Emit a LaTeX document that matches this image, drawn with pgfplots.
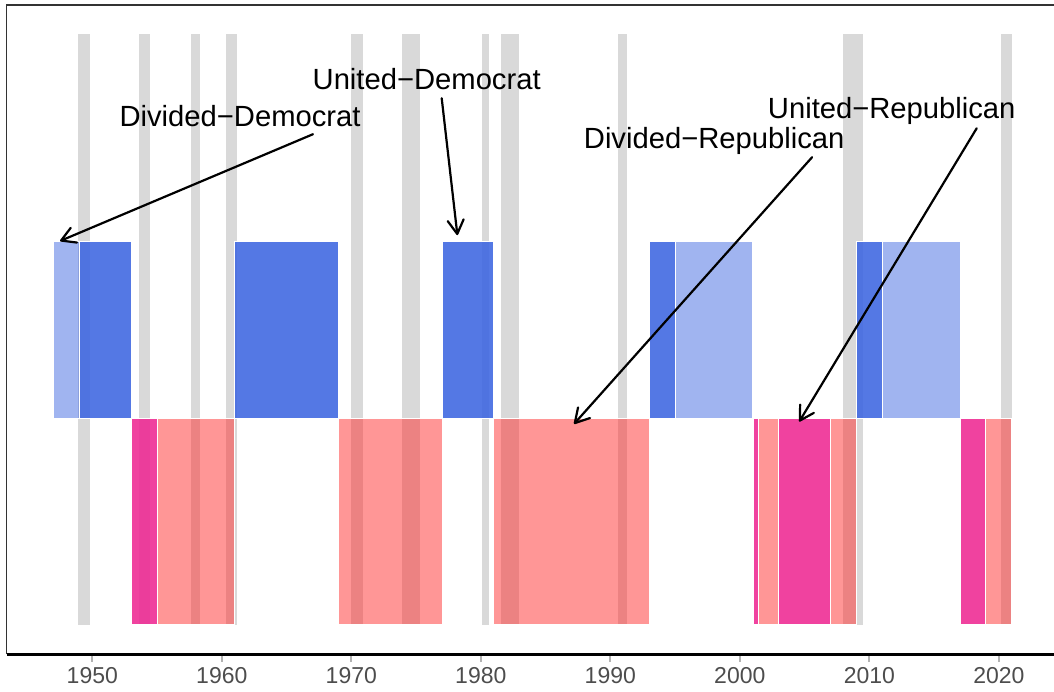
\documentclass[border=0pt]{standalone}
\usepackage{pgfplots}
\pgfplotsset{compat=1.18}
\usepackage{fontspec}
\setmainfont{Liberation Sans}
\usetikzlibrary{arrows.meta}
\definecolor{recgrey}{RGB}{217,217,217}
\definecolor{dem}{RGB}{65,105,225}
\definecolor{rep}{RGB}{255,45,45}
\definecolor{urep}{RGB}{238,45,149}
\definecolor{framegrey}{RGB}{51,51,51}
\definecolor{tickgrey}{RGB}{179,179,179}
\definecolor{labgrey}{RGB}{77,77,77}
\begin{document}
\begin{tikzpicture}
\begin{axis}[
  scale only axis, width=1047.3pt, height=649pt,
  xmin=1943.39, xmax=2024.26, ymin=-0.05, ymax=1.05,
  axis line style={draw=none},
  ytick=\empty,
  xtick={1950,1960,1970,1980,1990,2000,2010,2020},
  xticklabels={1950,1960,1970,1980,1990,2000,2010,2020},
  xticklabel style={font=\fontsize{23}{27}\selectfont, text=labgrey, yshift=-2pt},
  xtick pos=bottom,
  tick align=outside,
  major tick length=8pt,
  every tick/.style={tickgrey, line width=2pt},
  clip=false,
  grey/.style={draw=none, fill=recgrey},
  udem/.style={draw=white, line width=0.8pt, fill=dem, fill opacity=0.9},
  ddem/.style={draw=white, line width=0.8pt, fill=dem, fill opacity=0.5},
  urep/.style={draw=white, line width=0.8pt, fill=urep, fill opacity=0.9},
  drep/.style={draw=white, line width=0.8pt, fill=rep, fill opacity=0.5},
]
% recessions
\addplot[grey] coordinates {(1948.90,0) (1949.82,0) (1949.82,1) (1948.90,1)} -- cycle;
\addplot[grey] coordinates {(1953.61,0) (1954.45,0) (1954.45,1) (1953.61,1)} -- cycle;
\addplot[grey] coordinates {(1957.62,0) (1958.32,0) (1958.32,1) (1957.62,1)} -- cycle;
\addplot[grey] coordinates {(1960.32,0) (1961.17,0) (1961.17,1) (1960.32,1)} -- cycle;
\addplot[grey] coordinates {(1969.98,0) (1970.90,0) (1970.90,1) (1969.98,1)} -- cycle;
\addplot[grey] coordinates {(1973.92,0) (1975.31,0) (1975.31,1) (1973.92,1)} -- cycle;
\addplot[grey] coordinates {(1980.12,0) (1980.63,0) (1980.63,1) (1980.12,1)} -- cycle;
\addplot[grey] coordinates {(1981.56,0) (1982.96,0) (1982.96,1) (1981.56,1)} -- cycle;
\addplot[grey] coordinates {(1990.59,0) (1991.31,0) (1991.31,1) (1990.59,1)} -- cycle;
\addplot[grey] coordinates {(2007.98,0) (2009.49,0) (2009.49,1) (2007.98,1)} -- cycle;
\addplot[grey] coordinates {(2020.17,0) (2021.00,0) (2021.00,1) (2020.17,1)} -- cycle;
% Democratic presidents
\addplot[ddem] coordinates {(1947,0.35) (1949,0.35) (1949,0.65) (1947,0.65)} -- cycle;
\addplot[udem] coordinates {(1949,0.35) (1953,0.35) (1953,0.65) (1949,0.65)} -- cycle;
\addplot[udem] coordinates {(1961,0.35) (1969,0.35) (1969,0.65) (1961,0.65)} -- cycle;
\addplot[udem] coordinates {(1977,0.35) (1981,0.35) (1981,0.65) (1977,0.65)} -- cycle;
\addplot[udem] coordinates {(1993,0.35) (1995,0.35) (1995,0.65) (1993,0.65)} -- cycle;
\addplot[ddem] coordinates {(1995,0.35) (2001,0.35) (2001,0.65) (1995,0.65)} -- cycle;
\addplot[udem] coordinates {(2009,0.35) (2011,0.35) (2011,0.65) (2009,0.65)} -- cycle;
\addplot[ddem] coordinates {(2011,0.35) (2017,0.35) (2017,0.65) (2011,0.65)} -- cycle;
% Republican presidents
\addplot[urep] coordinates {(1953,0) (1955,0) (1955,0.35) (1953,0.35)} -- cycle;
\addplot[drep] coordinates {(1955,0) (1961,0) (1961,0.35) (1955,0.35)} -- cycle;
\addplot[drep] coordinates {(1969,0) (1977,0) (1977,0.35) (1969,0.35)} -- cycle;
\addplot[drep] coordinates {(1981,0) (1993,0) (1993,0.35) (1981,0.35)} -- cycle;
\addplot[urep] coordinates {(2001.05,0) (2001.43,0) (2001.43,0.35) (2001.05,0.35)} -- cycle;
\addplot[drep] coordinates {(2001.43,0) (2003,0) (2003,0.35) (2001.43,0.35)} -- cycle;
\addplot[urep] coordinates {(2003,0) (2007,0) (2007,0.35) (2003,0.35)} -- cycle;
\addplot[drep] coordinates {(2007,0) (2009,0) (2009,0.35) (2007,0.35)} -- cycle;
\addplot[urep] coordinates {(2017,0) (2019,0) (2019,0.35) (2017,0.35)} -- cycle;
\addplot[drep] coordinates {(2019,0) (2021,0) (2021,0.35) (2019,0.35)} -- cycle;
% annotations
\begin{scope}[every node/.style={font=\fontsize{29.2}{34}\selectfont, anchor=base, inner sep=0pt}]
\node at (axis cs:1961.41,0.8437) {Divided−Democrat};
\node at (axis cs:1975.82,0.906) {United−Democrat};
\node at (axis cs:1998.02,0.807) {Divided−Republican};
\node at (axis cs:2011.73,0.858) {United−Republican};
\end{scope}
\begin{scope}[line width=2.2pt, line cap=round, -{Straight Barb[angle=60:16pt, round]}]
\draw (axis cs:1967.04,0.831) -- (axis cs:1947.51,0.650);
\draw (axis cs:1976.98,0.892) -- (axis cs:1978.19,0.660);
\draw (axis cs:2005.58,0.792) -- (axis cs:1987.20,0.340);
\draw (axis cs:2018.29,0.841) -- (axis cs:2004.59,0.344);
\end{scope}
% frame
\draw[framegrey, line width=1.3pt] (rel axis cs:0,0) -- (rel axis cs:0,1) -- (rel axis cs:1,1);
\draw[black, line width=3pt] (rel axis cs:0,0) -- (rel axis cs:1,0);
\coordinate (SW) at (rel axis cs:0,0);
\coordinate (NE) at (rel axis cs:1,1);
\end{axis}
\pgfresetboundingbox
\path ([shift={(-6.7pt,-37pt)}]SW) rectangle ([shift={(0pt,5pt)}]NE);
\end{tikzpicture}
\end{document}
